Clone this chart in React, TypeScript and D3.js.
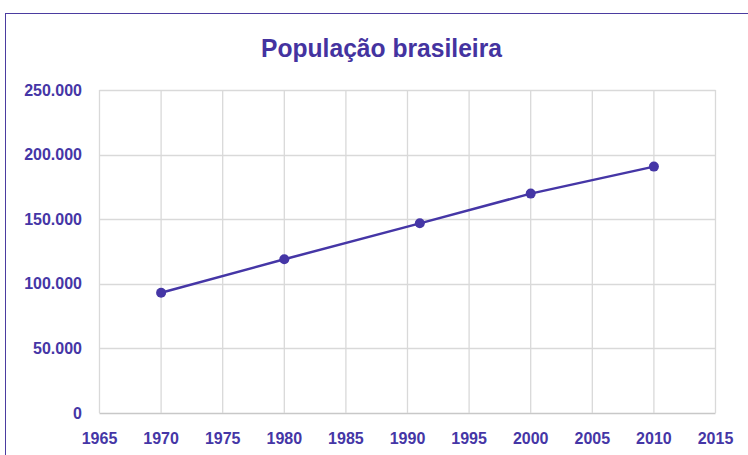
import React, { useRef, useEffect } from "react";
import * as d3 from "d3";

const years = [1970, 1980, 1991, 2000, 2010];
const population = [93.1, 119.0, 146.8, 169.8, 190.7];
const yTicks = [0, 50, 100, 150, 200, 250];
const xTicks = [1965, 1970, 1975, 1980, 1985, 1990, 1995, 2000, 2005, 2010, 2015];

const purple = "#4536a6";
const font = "'Liberation Sans', Arial, sans-serif";

export default function App() {
    const ref = useRef<SVGSVGElement>(null);

    useEffect(() => {
        const width = 748,
            height = 455;
        const svg = d3.select(ref.current).attr("width", width).attr("height", height);
        svg.selectAll("*").remove();

        // chart frame (only left/top edges visible in the crop)
        svg.append("rect")
            .attr("x", 5.5)
            .attr("y", 13.5)
            .attr("width", 760)
            .attr("height", 460)
            .attr("fill", "white")
            .attr("stroke", "#4b3ca0")
            .attr("stroke-width", 1);

        const x = d3.scaleLinear().domain([1965, 2015]).range([99.5, 715.5]);
        const y = d3.scaleLinear().domain([0, 250]).range([413, 90]);

        // grid
        svg.append("g")
            .selectAll("line.h")
            .data(yTicks)
            .enter()
            .append("line")
            .attr("x1", x(1965))
            .attr("x2", x(2015))
            .attr("y1", (d) => Math.round(y(d)) + 0.5)
            .attr("y2", (d) => Math.round(y(d)) + 0.5)
            .attr("stroke", (d) => (d === 0 ? "#c8c8c8" : "#d9d9d9"))
            .attr("stroke-width", 1.3);

        svg.append("g")
            .selectAll("line.v")
            .data(xTicks)
            .enter()
            .append("line")
            .attr("x1", (d) => x(d))
            .attr("x2", (d) => x(d))
            .attr("y1", y(250))
            .attr("y2", y(0))
            .attr("stroke", "#d9d9d9")
            .attr("stroke-width", 1.3);

        // y labels
        svg.append("g")
            .selectAll("text")
            .data(yTicks)
            .enter()
            .append("text")
            .attr("x", 82)
            .attr("y", (d) => y(d) + 5.5)
            .attr("text-anchor", "end")
            .attr("font-family", font)
            .attr("font-weight", "bold")
            .attr("font-size", 16)
            .attr("fill", purple)
            .text((d) => (d === 0 ? "0" : d3.format(".3f")(d)));

        // x labels
        svg.append("g")
            .selectAll("text")
            .data(xTicks)
            .enter()
            .append("text")
            .attr("x", (d) => x(d))
            .attr("y", 444)
            .attr("text-anchor", "middle")
            .attr("font-family", font)
            .attr("font-weight", "bold")
            .attr("font-size", 16)
            .attr("fill", purple)
            .text((d) => String(d));

        // line
        const pts = years.map((yr, i) => [yr, population[i]] as [number, number]);
        const line = d3
            .line<[number, number]>()
            .x((d) => x(d[0]))
            .y((d) => y(d[1]));

        svg.append("path")
            .datum(pts)
            .attr("d", line)
            .attr("fill", "none")
            .attr("stroke", purple)
            .attr("stroke-width", 2.5);

        svg.append("g")
            .selectAll("circle")
            .data(pts)
            .enter()
            .append("circle")
            .attr("cx", (d) => x(d[0]))
            .attr("cy", (d) => y(d[1]))
            .attr("r", 5)
            .attr("fill", purple);

        // title
        svg.append("text")
            .attr("x", 261)
            .attr("y", 56.5)
            .attr("textLength", 241)
            .attr("lengthAdjust", "spacingAndGlyphs")
            .attr("font-family", font)
            .attr("font-weight", "bold")
            .attr("font-size", 26)
            .attr("fill", "#4433a0")
            .text("População brasileira");
    }, []);

    return <svg ref={ref} style={{ position: "absolute", left: 0, top: 0 }}></svg>;
}
